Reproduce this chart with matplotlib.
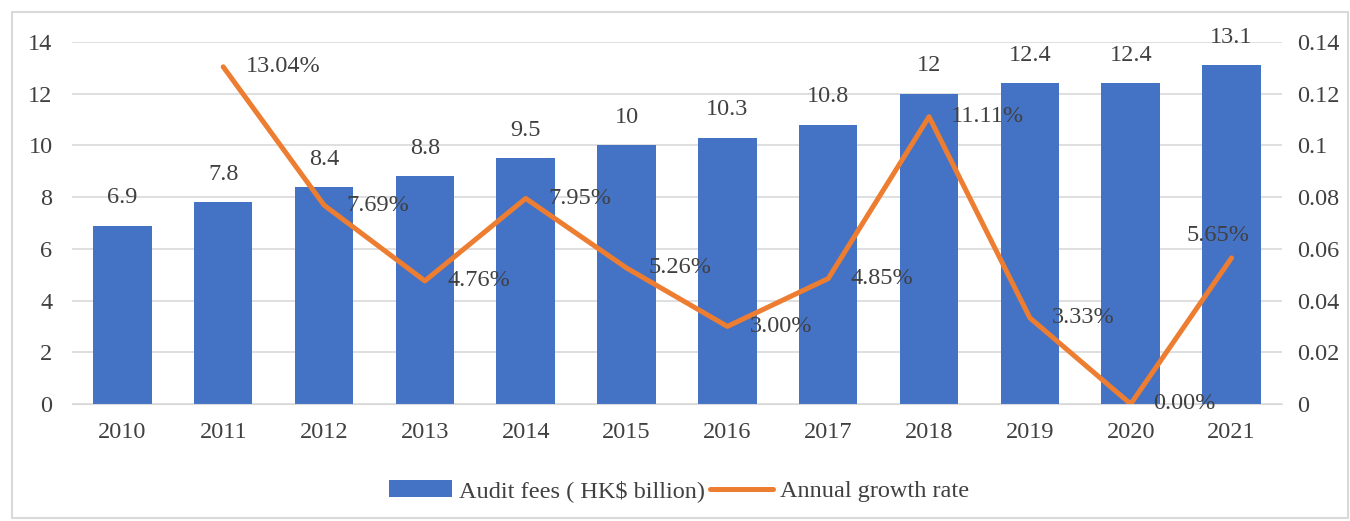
import matplotlib.pyplot as plt
from matplotlib.patches import Rectangle
from matplotlib.ticker import FuncFormatter

plt.rcParams['font.family'] = ['Liberation Serif', 'DejaVu Serif']

years = ['2010', '2011', '2012', '2013', '2014', '2015',
         '2016', '2017', '2018', '2019', '2020', '2021']
audit_fees = [6.9, 7.8, 8.4, 8.8, 9.5, 10, 10.3, 10.8, 12, 12.4, 12.4, 13.1]
growth_rate = [None, 0.1304, 0.0769, 0.0476, 0.0795, 0.0526,
               0.0300, 0.0485, 0.1111, 0.0333, 0.0000, 0.0565]

bar_color = '#4472C4'
line_color = '#ED7D31'
text_color = '#404040'
grid_color = '#D9D9D9'
fs = 17.5

fig = plt.figure(figsize=(13.5, 5.21), dpi=100)
ax = fig.add_axes([0.0533, 0.2246, 0.8963, 0.6948])
ax2 = ax.twinx()

x = list(range(len(years)))
bars = ax.bar(x, audit_fees, width=0.58, color=bar_color, zorder=2,
              label='Audit fees ( HK$ billion)')
for xi, v in zip(x, audit_fees):
    ax.annotate(f'{v:g}', (xi, v), xytext=(0, 20), textcoords='offset points',
                ha='center', va='center', fontsize=fs, color=text_color)

gx = [xi for xi, g in zip(x, growth_rate) if g is not None]
gy = [g for g in growth_rate if g is not None]
line, = ax2.plot(gx, gy, color=line_color, lw=3.6, solid_joinstyle='round',
                 solid_capstyle='round', zorder=3, label='Annual growth rate')
for xi, g in zip(gx, gy):
    # last label would run into the right axis, so it sits above its point
    if xi == gx[-1]:
        off, ha = (-10, 16), 'center'
    else:
        off, ha = (16, 0), 'left'
    ax2.annotate(f'{g * 100:.2f}%', (xi, g), xytext=off,
                 textcoords='offset points', ha=ha, va='center',
                 fontsize=fs, color=text_color)

ax.set_xlim(-0.5, 11.5)
ax.set_ylim(0, 14)
ax.set_yticks(range(0, 15, 2))
ax2.set_ylim(0, 0.14)
ax2.set_yticks([i * 0.02 for i in range(8)])
ax2.yaxis.set_major_formatter(FuncFormatter(lambda v, p: f'{round(v, 2):g}'))

ax.set_xticks(x)
ax.set_xticklabels(years)
ax.yaxis.grid(True, color=grid_color, lw=1.2, zorder=0)
ax.set_axisbelow(True)

for a in (ax, ax2):
    for s in a.spines.values():
        s.set_visible(False)
    a.tick_params(length=0, labelsize=fs, labelcolor=text_color)
ax.spines['bottom'].set_visible(True)
ax.spines['bottom'].set_color(grid_color)
ax.tick_params(axis='x', pad=13)
ax.tick_params(axis='y', pad=14)
ax2.tick_params(axis='y', pad=11)

fig.legend(handles=[bars, line], loc='center', bbox_to_anchor=(0.503, 0.057),
           ncol=2, frameon=False, fontsize=fs, labelcolor=text_color,
           handlelength=2.6, handletextpad=0.3, columnspacing=0.2)

fig.patches.append(Rectangle((12 / 1350, 3 / 521), 1336 / 1350, 506 / 521,
                             transform=fig.transFigure, fill=False,
                             edgecolor='#D9D9D9', lw=1.5))

fig.savefig('out.png', dpi=100)
